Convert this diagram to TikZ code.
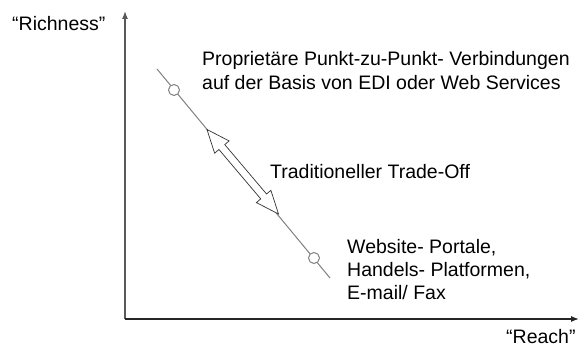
\documentclass[tikz,border=0pt]{standalone}
\usepackage{fontspec}
\setmainfont{Liberation Sans}
\usetikzlibrary{calc,arrows.meta}
\tikzset{
  lbl/.style={inner sep=0pt, anchor=base west, font=\fontsize{19.5}{25}\selectfont},
  axis/.style={line width=1.3pt, -{Latex[length=8pt,width=6pt]}},
  tradeline/.style={draw=gray, line width=1pt},
  pt/.style={circle, draw=gray, fill=white, line width=1pt, minimum size=11pt, inner sep=0pt},
  dblarrow/.style={draw=black!80, fill=white, line width=0.7pt, line join=miter}
}
\begin{document}
\begin{tikzpicture}[x=1pt,y=-1pt]
\useasboundingbox (0,0) rectangle (579,347);
% axes
\coordinate (O) at (125,319);
\coordinate (ytop) at (125,11);
\coordinate (xend) at (579,319);
\draw[axis, draw=black!65, fill=black!65] (O) -- (ytop);
\draw[axis, draw=black!85, fill=black!85] (O) -- (xend);
% trade-off line
\coordinate (lA) at (157,69);
\coordinate (lB) at (330,278);
\draw[tradeline] (lA) -- (lB);
\node[pt] (p1) at (174,90) {};
\node[pt] (p2) at (314,258) {};
% double arrow
\coordinate (tA) at (207,129.5);
\coordinate (tB) at (278.5,214);
\coordinate (hA) at ($(tA)!23pt!(tB)$);
\coordinate (hB) at ($(tB)!23pt!(tA)$);
\draw[dblarrow]
  (tA) -- ($(hA)!9.5pt!90:(tB)$) -- ($(hA)!3.8pt!90:(tB)$)
  -- ($(hB)!3.8pt!-90:(tA)$) -- ($(hB)!9.5pt!-90:(tA)$)
  -- (tB) -- ($(hB)!9.5pt!90:(tA)$) -- ($(hB)!3.8pt!90:(tA)$)
  -- ($(hA)!3.8pt!-90:(tB)$) -- ($(hA)!9.5pt!-90:(tB)$) -- cycle;
% labels
\node[lbl] (rich) at (12,31) {“Richness”};
\node[lbl] (reach) at (506,344) {“Reach”};
\node[lbl] (prop1) at (202,66) {Proprietäre Punkt-zu-Punkt- Verbindungen};
\node[lbl] (prop2) at (202,90) {auf der Basis von EDI oder Web Services};
\node[lbl] (trade) at (270,179) {Traditioneller Trade-Off};
\node[lbl] (web1) at (347,254) {Website- Portale,};
\node[lbl] (web2) at (347,277) {Handels- Platformen,};
\node[lbl] (web3) at (347,300) {E-mail/ Fax};
\end{tikzpicture}
\end{document}
